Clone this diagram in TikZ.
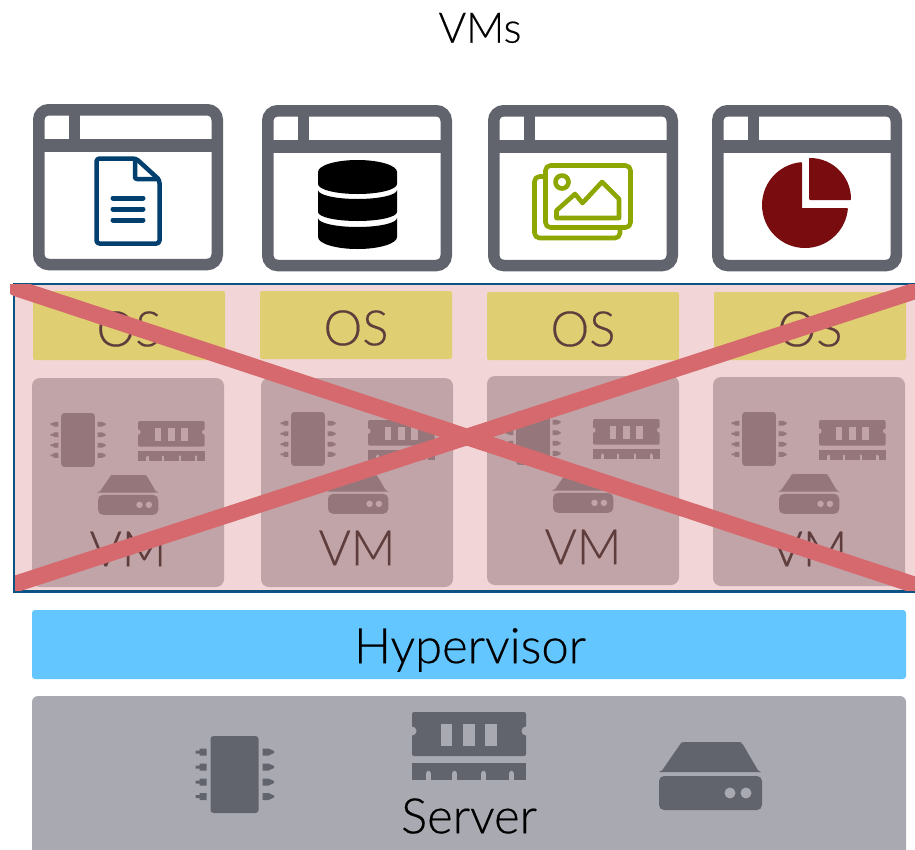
\documentclass[tikz,border=0pt]{standalone}
\usepackage{fontspec}
\setmainfont{Lato Light}[FakeBold=0.35]
\definecolor{wingray}{HTML}{61646C}
\definecolor{srvgray}{HTML}{A9A9B2}
\definecolor{hypblue}{HTML}{63C6FF}
\definecolor{ospanel}{HTML}{E0CF72}
\definecolor{vmpanel}{HTML}{C1A4A7}
\definecolor{vmicon}{HTML}{95777B}
\definecolor{pinkbg}{HTML}{F2D5D6}
\definecolor{crossred}{HTML}{D6696D}
\definecolor{dimtext}{HTML}{5F3D3D}
\definecolor{frameblue}{HTML}{0B5383}
\definecolor{docblue}{HTML}{003F6E}
\definecolor{imggreen}{HTML}{8EA600}
\definecolor{piered}{HTML}{780C0E}
\newcommand{\chipicon}[5]{% cx cy scale fg (bg unused)
 \begin{scope}[shift={(#1,#2)},scale=#3]
  \fill[#4,rounded corners=3pt] (-24,-38.5) rectangle (24,38.5);
  \foreach \py in {-22.5,-7.5,7.5,22}{
   \fill[#4] (-39,\py-1.5) -- (-35,\py-1.5) -- (-35,\py-3.5) -- (-28,\py-3.5) -- (-28,\py+3.5) -- (-35,\py+3.5) -- (-35,\py+1.5) -- (-39,\py+1.5) -- cycle;
   \fill[#4] (28,\py-3.5) -- (34,\py-3.5) -- (39.5,\py-1) -- (39.5,\py+1) -- (34,\py+3.5) -- (28,\py+3.5) -- cycle;
  }
 \end{scope}}
\newcommand{\ramicon}[5]{% x y scale fg bg
 \begin{scope}[shift={(#1,#2)},scale=#3]
  \fill[#4,rounded corners=2pt] (0,0) rectangle (114,44);
  \fill[#5] (0,19) circle (4.5); \fill[#5] (114,19) circle (4.5);
  \fill[#5] (29,12) rectangle (40,34);
  \fill[#5] (51,12) rectangle (63,34);
  \fill[#5] (73,12) rectangle (85,34);
  \fill[#4] (0,51) rectangle (114,68);
  \foreach \nx in {16.5,42.5,71.5,99.5}{\fill[#5] (\nx-2.2,68.2) rectangle (\nx+2.2,61);\fill[#5] (\nx,61) circle (2.2);}
 \end{scope}}
\newcommand{\diskicon}[5]{% x y scale fg bg
 \begin{scope}[shift={(#1,#2)},scale=#3]
  \fill[#4,rounded corners=2pt] (1,30) -- (2,30) -- (22,1) -- (23,0) -- (81,0) -- (83,1) -- (100,30) -- (102,30) -- cycle;
  \fill[#4,rounded corners=5pt] (0,34) rectangle (103,68);
  \fill[#5] (71,51) circle (5.5); \fill[#5] (87,51) circle (5.5);
 \end{scope}}
\newcommand{\appwindow}[2]{%
 \begin{scope}[shift={(#1,#2)}]
  \draw[wingray,line width=11.5pt,rounded corners=10pt] (5.75,5.75) rectangle (184.25,160.5);
  \fill[wingray] (0,35) rectangle (190,48);
  \fill[wingray] (36,5) rectangle (47,40);
 \end{scope}}
\newcommand{\vmicons}[2]{%
 \begin{scope}[shift={(#1,#2)}]
  \chipicon{78}{440}{.7}{vmicon}{vmpanel}
  \ramicon{138}{421}{.585}{vmicon}{vmpanel}
  \diskicon{98}{475}{.585}{vmicon}{vmpanel}
 \end{scope}}
\tikzset{
 x=1pt,y=-1pt,
 biglabel/.style={font=\fontsize{49}{49}\selectfont,inner sep=0pt,anchor=center},
 dimlabel/.style={biglabel,text=dimtext},
}
\begin{document}
\begin{tikzpicture}
\useasboundingbox (0,0) rectangle (915,849);
\fill[white] (0,0) rectangle (915,849);
\clip (0,0) rectangle (915,849);
\node[biglabel,text=black,font=\fontsize{42}{42}\selectfont] (title) at (480,28) {VMs};
% application windows
\appwindow{33}{104}
\appwindow{262}{105}
\appwindow{488}{105}
\appwindow{712}{105}
% document icon
\draw[docblue,line width=4.5pt,line join=round,rounded corners=3pt] (96.5,158.5) -- (136,158.5) -- (159.5,180) -- (159.5,243.5) -- (96.5,243.5) -- cycle;
\draw[docblue,line width=4.5pt,line join=round,rounded corners=2pt] (135,158.5) -- (135,179) -- (159.5,179);
\foreach \ly in {198,209,220}{\draw[docblue,line width=5pt,line cap=round] (113,\ly) -- (143,\ly);}
% database icon
\begin{scope}[shift={(357.5,0)},y=1pt]
 \fill[black] (-39.5,-172) arc (180:0:39.5 and 12) -- (39.5,-184) arc (0:-180:39.5 and 10) -- cycle;
 \fill[black] (-39.5,-190) arc (180:360:39.5 and 9) -- (39.5,-212) arc (0:-180:39.5 and 9) -- cycle;
 \fill[black] (-39.5,-218) arc (180:360:39.5 and 9) -- (39.5,-237) arc (0:-180:39.5 and 12) -- cycle;
\end{scope}
% images icon
\begin{scope}[imggreen,line width=4.6pt,line join=round]
 \draw[rounded corners=5pt] (545.5,165.5) rectangle (630.5,227.5);
 \draw[rounded corners=5pt] (545,176.5) -- (534.5,176.5) -- (534.5,238) -- (620,238) -- (620,228);
 \draw (562,182) circle (6.5);
 \draw (556.5,218) -- (556.5,210.5) -- (575,194) -- (582.5,203) -- (602,182) -- (619,199) -- (619,218) -- cycle;
\end{scope}
% pie icon
\begin{scope}[shift={(801,209)},y=1pt]
 \fill[piered,draw=piered,line width=2pt,line join=round] (0,0) -- (0,45.8) arc (95.5:354.5:42) -- cycle;
\end{scope}
\begin{scope}[shift={(810,199)},y=1pt]
 \fill[piered,draw=piered,line width=2pt,line join=round] (0,0) -- (0,40) arc (90:0:40) -- cycle;
\end{scope}
% dimmed layer
\fill[crossred] (12.5,282.5) rectangle (925,593);
\fill[pinkbg] (15,285) rectangle (925,590.5);
\draw[frameblue,line width=2.4pt] (14.2,284.2) rectangle (930,591.4);
\fill[ospanel,rounded corners=2pt] (33,291) rectangle (225,360);
\fill[ospanel,rounded corners=2pt] (260,291) rectangle (452,359);
\fill[ospanel,rounded corners=2pt] (487,292) rectangle (679,360);
\fill[ospanel,rounded corners=2pt] (714,292) rectangle (906,360);
\node[dimlabel] (os1) at (129,329) {OS};
\node[dimlabel] (os2) at (356,328) {OS};
\node[dimlabel] (os3) at (583,329) {OS};
\node[dimlabel] (os4) at (810,329) {OS};
\fill[vmpanel,rounded corners=8pt] (32,378) rectangle (224,587);
\fill[vmpanel,rounded corners=8pt] (261,378) rectangle (453,587);
\fill[vmpanel,rounded corners=8pt] (487,376) rectangle (679,585);
\fill[vmpanel,rounded corners=8pt] (713,377) rectangle (905,586);
\vmicons{0}{0}
\vmicons{230}{-1}
\vmicons{455}{-2}
\vmicons{681}{-1}
\node[dimlabel] (vm1) at (128,549) {VM};
\node[dimlabel] (vm2) at (357,548) {VM};
\node[dimlabel] (vm3) at (583,547) {VM};
\node[dimlabel] (vm4) at (809,549) {VM};
% cross
\begin{scope}
 \clip (10,284) rectangle (915,590);
 \draw[crossred,line width=16.5pt,line cap=round] (16,288) -- (930,590);
 \clip (15,270) rectangle (915,590);
 \draw[crossred,line width=16.5pt] (0,589) -- (930,286);
\end{scope}
% hypervisor and server
\fill[hypblue,rounded corners=3pt] (32,610) rectangle (906,679);
\node[biglabel,text=black] (hyp) at (470,650) {Hypervisor};
\fill[srvgray,rounded corners=6pt] (32,696) rectangle (906,870);
\chipicon{234.5}{774.5}{1}{wingray}{srvgray}
\ramicon{412}{712}{1}{wingray}{srvgray}
\diskicon{659}{742}{1}{wingray}{srvgray}
\node[biglabel,text=black] (srv) at (469,816) {Server};
\end{tikzpicture}
\end{document}
